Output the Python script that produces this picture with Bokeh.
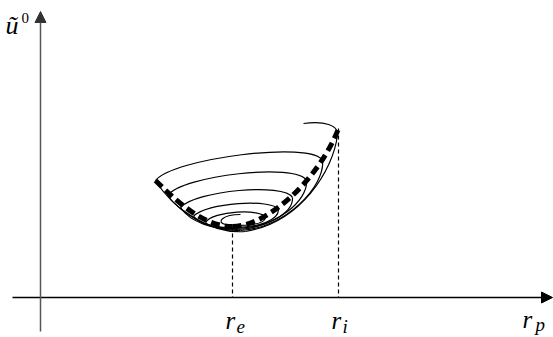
from bokeh.plotting import figure
from bokeh.models import Range1d, Arrow, NormalHead
from bokeh.core.properties import value
from bokeh.embed import file_html
from bokeh.resources import INLINE

W, H = 553, 337

# Spiral trajectory, drawn as cubic Bezier pieces (start, control 1, control 2, end)
spiral_x0 = [303, 337, 245, 155, 322, 240, 167, 306, 238, 180, 292, 236, 193, 278, 234, 205, 265, 225]
spiral_y0 = [123, 134, 231, 180, 160, 230, 195, 180, 229, 207, 197, 228, 216, 209, 227, 222, 217, 224]
spiral_cx0 = [324, 333, 210, 172, 325, 208, 182, 308, 212, 195, 293, 215, 205, 278, 218, 212, 264, 215]
spiral_cy0 = [120, 170, 234, 158, 185, 231, 175, 200, 229, 190, 212, 228, 202, 220, 227, 210, 225, 222]
spiral_cx1 = [338, 300, 172, 312, 285, 180, 296, 275, 190, 284, 268, 200, 272, 258, 208, 262, 240, 222]
spiral_cy1 = [125, 222, 208, 140, 228, 212, 162, 227, 222, 182, 227, 224, 198, 227, 226, 208, 226, 214]
spiral_x1 = [337, 245, 155, 322, 240, 167, 306, 238, 180, 292, 236, 193, 278, 234, 205, 265, 225, 240]
spiral_y1 = [134, 231, 180, 160, 230, 195, 180, 229, 207, 197, 228, 216, 209, 227, 222, 217, 224, 214]

# Thick dashed envelope through the loop ends, minimum at r_e, top at r_i
env_x0 = [155, 232]
env_y0 = [180, 226]
env_cx0 = [185, 266]
env_cy0 = [210, 226]
env_cx1 = [208, 318]
env_cy1 = [226, 180]
env_x1 = [232, 338]
env_y1 = [226, 128]

# Marker positions on the r_p axis
marker_x = [232, 338]
marker_top = [226, 128]
axis_y = 297
axis_x = 40

p = figure(width=W, height=H, x_range=Range1d(0, W), y_range=Range1d(H, 0),
           output_backend="svg", toolbar_location=None,
           x_axis_location=None, y_axis_location=None, min_border=0,
           outline_line_color=None, background_fill_color="white")
p.grid.visible = False

# axes with arrow heads
p.add_layout(Arrow(end=NormalHead(size=11, fill_color="black", line_color="black"),
                   x_start=12, y_start=axis_y, x_end=552, y_end=axis_y,
                   line_color="black", line_width=1.5))
p.add_layout(Arrow(end=NormalHead(size=11, fill_color="#333333", line_color="#333333"),
                   x_start=axis_x, y_start=331, x_end=axis_x, y_end=11,
                   line_color="#555555", line_width=1.5))

# dashed drop lines to the r_p axis
p.segment(x0=marker_x, y0=marker_top, x1=marker_x, y1=[axis_y] * 2,
          line_color="black", line_width=1.2, line_dash="4 3")

p.bezier(x0=spiral_x0, y0=spiral_y0, x1=spiral_x1, y1=spiral_y1,
         cx0=spiral_cx0, cy0=spiral_cy0, cx1=spiral_cx1, cy1=spiral_cy1,
         line_color="black", line_width=1.2)

p.bezier(x0=env_x0, y0=env_y0, x1=env_x1, y1=env_y1,
         cx0=env_cx0, cy0=env_cy0, cx1=env_cx1, cy1=env_cy1,
         line_color="black", line_width=5, line_dash="9 5")

serif = value("Liberation Serif")

# axis labels
p.text(x=[5], y=[25], text=["ũ"], text_font=serif, text_font_style="italic",
       text_font_size="26px", text_baseline="alphabetic", text_color="black")
p.text(x=[21], y=[17], text=["0"], text_font=serif, text_font_style="normal",
       text_font_size="15px", text_baseline="alphabetic", text_color="black")

main_labels = ["r", "r", "r"]
main_x = [225, 331, 522]
sub_labels = ["e", "i", "p"]
sub_x = [236, 342, 535]
p.text(x=main_x, y=[320, 320, 319], text=main_labels, text_font=serif,
       text_font_style="italic", text_font_size="25px",
       text_baseline="alphabetic", text_color="black")
p.text(x=sub_x, y=[326, 326, 324], text=sub_labels, text_font=serif,
       text_font_style="italic", text_font_size="19px",
       text_baseline="alphabetic", text_color="black")

open("out.html", "w").write(file_html(p, INLINE))
